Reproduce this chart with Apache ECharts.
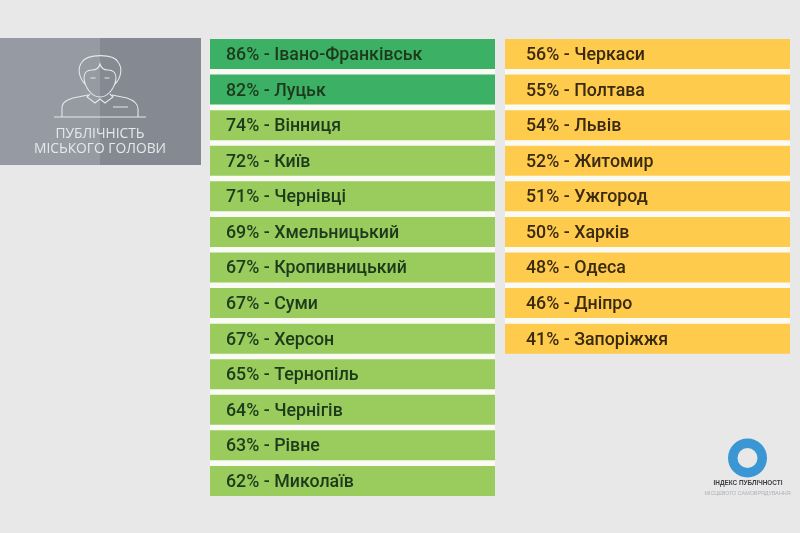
<!DOCTYPE html>
<html><head><meta charset="utf-8">
<style>html,body{margin:0;padding:0;background:#e8e8e8}#c{width:800px;height:533px}</style>
<script src="https://cdn.jsdelivr.net/npm/echarts@6/dist/echarts.min.js"></script>
</head><body><div id="c"></div>
<script>
const leftCities=["Івано-Франківськ","Луцьк","Вінниця","Київ","Чернівці","Хмельницький","Кропивницький","Суми","Херсон","Тернопіль","Чернігів","Рівне","Миколаїв"];
const leftValues=[86,82,74,72,71,69,67,67,67,65,64,63,62];
const rightCities=["Черкаси","Полтава","Львів","Житомир","Ужгород","Харків","Одеса","Дніпро","Запоріжжя"];
const rightValues=[56,55,54,52,51,50,48,46,41];
const scaleMax=100;
const titleLines=["ПУБЛІЧНІСТЬ","МІСЬКОГО ГОЛОВИ"];
const logoLines=["ІНДЕКС ПУБЛІЧНОСТІ","МІСЦЕВОГО САМОВРЯДУВАННЯ"];
const rowCount=leftCities.length;

const DARK='#3cb064',GREEN='#99cc5c',YELLOW='#ffcb4c';
const leftColor=v=>v>=80?DARK:GREEN;
const rightColor=()=>YELLOW;

function pair(idx,cats,vals,colorOf,textColor,pad){
  const color=p=>colorOf(vals[p.dataIndex]);
  return [
    {type:'bar',name:'track',xAxisIndex:idx,yAxisIndex:idx,barWidth:30,barGap:'-100%',silent:true,z:2,
     data:cats.map(()=>scaleMax),itemStyle:{color}},
    {type:'bar',name:'Публічність',xAxisIndex:idx,yAxisIndex:idx,barWidth:30,barGap:'-100%',z:3,
     data:vals,itemStyle:{color:'transparent'},
     label:{show:true,position:'insideLeft',distance:pad,offset:[0,1.5],color:textColor,
       fontFamily:'Roboto',fontWeight:500,fontSize:17.8,
       formatter:p=>p.value+'% - '+cats[p.dataIndex]}}
  ];
}
const yAxis=(gridIndex,cats)=>({type:'category',gridIndex,inverse:true,data:cats,
  axisLine:{show:false},axisTick:{show:false},axisLabel:{show:false},splitLine:{show:false}});
const xAxis=gridIndex=>({type:'value',gridIndex,min:0,max:scaleMax,show:false,splitLine:{show:false}});
const rowH=35.58, gridTop=36.2;

const man="M85 84C79 78 77 68 82 62C87 54 113 53 118 62C123 68 121 78 115 84"+
 "M84 78C84 72 87 70 92 70C96 70 99 68 100 64C101 68 104 70 108 70C113 70 116 72 116 78"+
 "M84 78C85 88 92 97 100 97C108 97 115 88 116 78"+
 "M90 94L87 97L95 103L100 99L105 103L113 97L110 94"+
 "M62 117L62 108C62 102 67 100 73 98L88 95M112 95L127 98C133 100 138 103 138 109L138 117"+
 "M113 107L128 107M54 117L146 117M90.5 78L95.5 78M104.5 78L109.5 78";
echarts.graphic.registerShape('manIcon',echarts.graphic.extendPath(man,{}));

const chart=echarts.init(document.getElementById('c'),null,{renderer:'canvas'});
chart.setOption({
  animation:false,
  backgroundColor:'#e8e8e8',
  grid:[
    {left:210,width:285,top:gridTop,height:rowH*rowCount},
    {left:505,width:285,top:gridTop,height:rowH*rightCities.length}
  ],
  xAxis:[xAxis(0),xAxis(1)],
  yAxis:[yAxis(0,leftCities),yAxis(1,rightCities)],
  series:[...pair(0,leftCities,leftValues,leftColor,'#1d3a1c',16),
          ...pair(1,rightCities,rightValues,rightColor,'#3a2a12',21)],
  graphic:[
    {type:'rect',z:0,shape:{x:210,y:39,width:285,height:457},style:{fill:'#fbfbf6'}},
    {type:'rect',z:0,shape:{x:505,y:39,width:285,height:314},style:{fill:'#fbfbf6'}},
    {type:'rect',z:0,shape:{x:0,y:38,width:100,height:127},style:{fill:'#969ba3'}},
    {type:'rect',z:0,shape:{x:100,y:38,width:101,height:127},style:{fill:'#858a92'}},
    {type:'manIcon',z:1,style:{fill:null,stroke:'#e4e6e8',lineWidth:1.1}},
    {type:'text',z:1,x:100,y:134,style:{text:titleLines[0],fill:'#e6e8ea',font:'13.8px "Open Sans"',align:'center',verticalAlign:'middle'}},
    {type:'text',z:1,x:100,y:149,style:{text:titleLines[1],fill:'#e6e8ea',font:'13.8px "Open Sans"',align:'center',verticalAlign:'middle'}},
    {type:'ring',z:1,shape:{cx:747.5,cy:458,r:19.5,r0:10},style:{fill:'#3a97d3'}},
    {type:'text',z:1,x:748,y:483,style:{text:logoLines[0],fill:'#3c3f44',font:'bold 6.4px "Liberation Sans"',align:'center',verticalAlign:'middle'}},
    {type:'text',z:1,x:747.5,y:494,style:{text:logoLines[1],fill:'#b0b3b7',font:'5.4px "Liberation Sans"',align:'center',verticalAlign:'middle'}}
  ]
});
</script></body></html>
